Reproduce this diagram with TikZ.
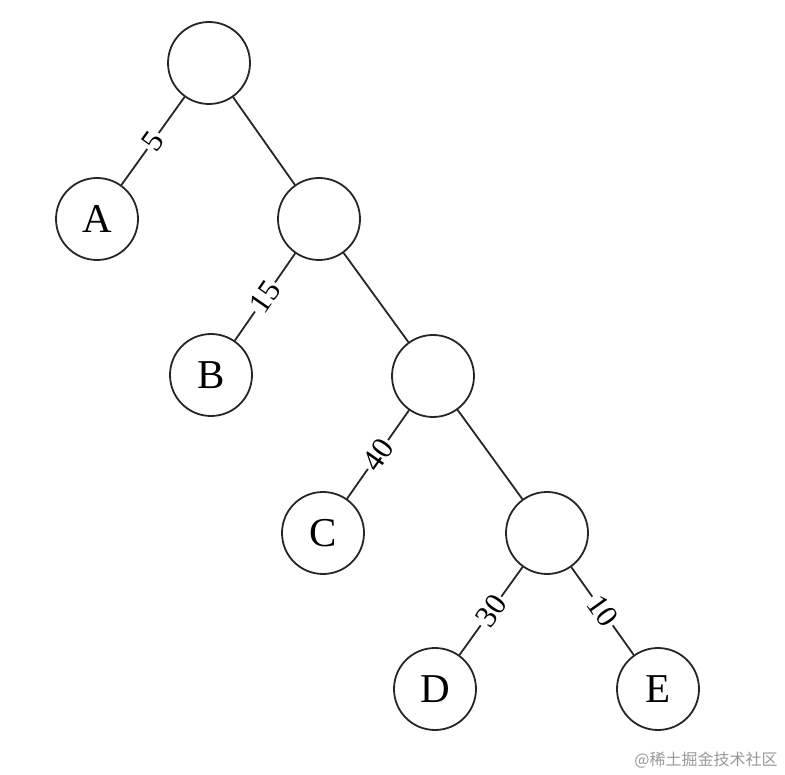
\documentclass[tikz,border=0pt]{standalone}
\usepackage{fontspec}
\setmainfont{Liberation Serif}
\newfontfamily\cjk{Noto Sans CJK SC}
\begin{document}
\begin{tikzpicture}[x=1pt,y=-1pt,
  tnode/.style={circle, draw=black!85, line width=1.8pt, minimum size=82pt, inner sep=0pt, font=\fontsize{41}{41}\selectfont},
  conn/.style={draw=black!85, line width=1.8pt},
  wlabel/.style={sloped, midway, fill=white, inner sep=2pt, font=\fontsize{31}{31}\selectfont}]
\useasboundingbox (0,0) rectangle (785,775);
\fill[white] (0,0) rectangle (785,775);
\node[tnode] (r)  at (209,63)  {};
\node[tnode] (a)  at (97,219)  {A};
\node[tnode] (n2) at (319,219) {};
\node[tnode] (b)  at (211,375) {B};
\node[tnode] (n3) at (433,376) {};
\node[tnode] (c)  at (323,533) {C};
\node[tnode] (n4) at (547,533) {};
\node[tnode] (d)  at (435,689) {D};
\node[tnode] (e)  at (658,689) {E};
\draw[conn] (r) -- node[wlabel] {5} (a);
\draw[conn] (r) -- (n2);
\draw[conn] (n2) -- node[wlabel] {15} (b);
\draw[conn] (n2) -- (n3);
\draw[conn] (n3) -- node[wlabel] {40} (c);
\draw[conn] (n3) -- (n4);
\draw[conn] (n4) -- node[wlabel] {30} (d);
\draw[conn] (n4) -- node[wlabel] {10} (e);
\node[text=black!40, font=\cjk\fontsize{16}{16}\selectfont, inner sep=0pt] (wm) at (706,760) {@稀土掘金技术社区};
\end{tikzpicture}
\end{document}
